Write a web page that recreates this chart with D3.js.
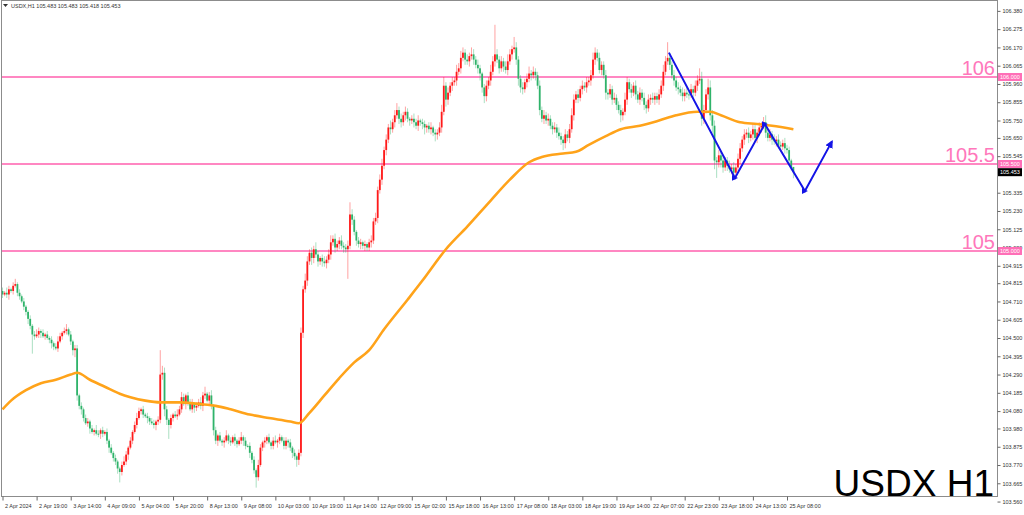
<!DOCTYPE html>
<html>
<head>
<meta charset="utf-8">
<script src="https://cdn.jsdelivr.net/npm/d3@7"></script>
<style>
  html, body { margin: 0; padding: 0; background: #fff; }
  svg { display: block; }
</style>
</head>
<body>
<div id="vis"></div>
<script>
// Hourly closes (2 Apr 2024 00:00 -> 25 Apr 11:00)
const FIRST_OPEN = 104.77;
const CLOSES = [
  104.75,104.76,104.75,104.78,104.77,104.80,104.81,104.76,104.74,104.71,104.68,104.65,104.61,104.57,104.52,104.51,104.52,104.54,104.53,104.51,
  104.52,104.50,104.49,104.47,104.45,104.44,104.48,104.51,104.53,104.54,104.55,104.52,104.48,104.43,104.44,104.17,104.11,104.09,104.04,104.01,
  104.02,103.98,103.96,103.97,103.95,103.95,103.97,103.95,103.96,103.91,103.87,103.84,103.81,103.79,103.75,103.73,103.77,103.79,103.83,103.87,
  103.91,103.96,104.00,104.04,104.08,104.09,104.06,104.05,104.04,104.02,104.01,104.00,104.02,104.03,104.29,104.30,104.09,104.03,104.00,104.04,
  104.06,104.05,104.06,104.09,104.16,104.12,104.17,104.13,104.09,104.12,104.10,104.11,104.13,104.11,104.17,104.18,104.14,104.17,104.11,103.97,
  103.91,103.94,103.91,103.90,103.91,103.94,103.91,103.90,103.93,103.91,103.89,103.91,103.93,103.91,103.88,103.88,103.84,103.80,103.74,103.70,
  103.77,103.87,103.90,103.91,103.93,103.90,103.88,103.91,103.90,103.91,103.93,103.91,103.88,103.91,103.90,103.87,103.84,103.82,103.80,103.84,
  104.53,104.78,104.83,104.94,104.99,104.96,105.01,104.98,104.94,104.96,104.94,104.93,104.95,104.98,105.05,105.07,105.02,105.04,105.06,105.03,
  105.02,105.01,105.03,105.21,105.18,105.11,105.06,105.04,105.05,105.03,105.04,105.02,105.05,105.06,105.17,105.19,105.35,105.41,105.49,105.58,
  105.64,105.71,105.70,105.74,105.78,105.81,105.76,105.74,105.78,105.80,105.76,105.75,105.76,105.74,105.72,105.75,105.74,105.73,105.71,105.72,
  105.70,105.71,105.68,105.67,105.68,105.71,105.80,105.95,105.87,105.91,105.95,105.97,105.98,106.03,106.05,106.11,106.14,106.10,106.09,106.12,
  106.13,106.10,106.07,106.05,106.02,105.94,105.89,105.95,105.98,106.03,106.09,106.13,106.10,106.05,106.09,106.06,106.04,106.09,106.13,106.16,
  106.17,106.10,105.99,105.94,105.93,105.97,105.99,106.02,106.01,106.03,106.01,105.95,105.81,105.76,105.78,105.75,105.76,105.72,105.70,105.71,
  105.68,105.66,105.64,105.62,105.67,105.65,105.70,105.78,105.87,105.90,105.88,105.93,105.95,105.94,105.97,105.98,106.01,106.10,106.14,106.11,
  106.04,106.07,106.01,105.91,105.90,105.93,105.87,105.88,105.84,105.81,105.78,105.80,105.87,105.97,105.93,105.91,105.95,105.90,105.87,105.91,
  105.88,105.84,105.82,105.87,105.88,105.87,105.89,105.87,105.90,105.95,106.03,106.09,106.11,106.07,106.01,105.98,105.94,105.93,105.91,105.89,
  105.91,105.90,105.90,105.93,105.91,105.95,105.98,105.99,105.76,105.81,105.90,105.94,105.78,105.72,105.52,105.51,105.55,105.52,105.48,105.52,
  105.49,105.47,105.48,105.45,105.48,105.53,105.59,105.64,105.67,105.68,105.65,105.67,105.70,105.65,105.68,105.71,105.72,105.74,105.68,105.65,
  105.67,105.64,105.63,105.64,105.61,105.60,105.62,105.59,105.58,105.52,105.483,105.453
];
// Upper / lower shadow lengths, in hundredths
const WICK_HI = [
  2,1,3,2,1,2,3,1,2,1,2,1,1,2,1,2,3,2,1,2, 1,2,1,2,1,2,3,2,1,2,3,1,2,1,2,2,1,2,1,2,
  2,1,2,1,3,2,1,2,1,2,1,2,1,2,1,1,2,3,2,1, 2,1,2,3,2,1,2,1,2,1,2,2,1,2,14,4,3,2,1,2,
  1,2,3,2,3,2,1,2,2,3,1,2,2,3,2,4,1,2,3,1, 2,1,2,1,2,3,1,2,1,2,1,2,3,1,2,1,2,1,2,1,
  3,2,1,2,1,2,1,2,3,1,2,1,2,2,1,2,1,2,1,2, 3,2,4,3,2,3,2,4,2,1,2,3,2,3,4,2,3,2,2,3,
  2,2,3,7,3,2,1,2,2,1,2,1,2,3,2,3,2,3,4,2, 3,2,4,2,3,4,2,3,2,3,2,1,2,3,2,3,1,2,2,1,
  2,3,1,2,2,3,4,5,2,3,2,3,2,4,3,4,3,2,3,2, 4,3,2,3,2,1,2,3,2,4,3,17,3,2,3,2,3,4,3,2,
  6,3,2,2,3,2,3,4,2,3,2,2,3,2,3,2,3,2,2,3, 2,3,2,2,3,2,3,4,3,2,3,2,3,2,3,2,3,4,3,2,
  3,2,2,3,2,3,2,3,2,2,3,2,4,3,2,3,2,3,2,3, 2,3,2,3,2,3,2,2,3,3,4,3,9,3,2,3,2,3,2,3,
  2,3,2,3,2,3,3,6,4,3,3,5,4,3,3,2,3,2,3,2, 2,3,2,3,2,3,3,2,3,2,3,2,3,3,2,3,2,3,4,2,
  3,2,3,2,3,2,2,3,2,2,1,0
];
const WICK_LO = [
  2,1,2,3,1,2,1,2,2,1,2,2,3,2,11,2,1,2,3,1, 2,1,2,3,2,1,2,1,2,1,2,1,2,3,4,3,2,3,2,1,
  2,3,1,2,1,2,3,2,1,2,3,1,2,2,3,6,2,1,2,3, 1,2,1,2,1,2,2,1,3,2,1,2,3,2,2,3,4,3,8,2,
  2,1,2,1,2,1,3,2,1,2,3,2,1,2,3,2,1,3,2,3, 2,3,1,2,3,1,2,2,1,3,2,1,2,3,2,1,3,2,2,6,
  2,1,2,3,2,1,2,2,1,3,2,1,2,2,3,2,3,2,4,3, 2,3,2,3,2,4,3,2,3,2,3,2,3,2,3,2,3,2,3,2,
  3,2,17,2,3,2,3,2,3,2,3,2,2,3,2,2,3,2,3,2, 3,2,3,2,3,2,3,3,2,3,2,3,2,3,2,3,2,3,4,3,
  2,3,2,4,3,2,3,2,4,3,2,3,2,3,2,3,2,3,2,3, 2,3,2,3,4,3,4,3,2,3,2,3,2,3,2,3,2,3,2,3,
  2,3,4,3,3,2,3,2,3,2,3,2,3,2,3,2,3,2,3,2, 3,2,3,4,3,2,3,2,3,2,3,2,3,2,3,2,3,2,3,2,
  2,3,2,4,3,2,3,2,3,2,4,3,2,3,2,3,2,3,2,3, 2,3,3,2,3,2,3,2,3,2,3,2,2,3,2,3,2,3,2,3,
  3,2,3,2,3,2,3,2,4,3,2,3,3,4,5,9,3,4,3,2, 3,2,3,2,3,2,3,2,3,2,3,2,3,2,3,2,3,2,3,2,
  2,3,2,3,2,3,2,3,2,3,2,3.5
];

// Time axis: one label every 16 bars
const TIME_LABELS = ["2 Apr 2024","2 Apr 19:00","3 Apr 14:00","4 Apr 09:00","5 Apr 04:00","5 Apr 20:00",
  "8 Apr 13:00","9 Apr 08:00","10 Apr 03:00","10 Apr 19:00","11 Apr 14:00","12 Apr 09:00","15 Apr 02:00",
  "15 Apr 18:00","16 Apr 13:00","17 Apr 08:00","18 Apr 03:00","18 Apr 19:00","19 Apr 14:00","22 Apr 07:00",
  "22 Apr 23:00","23 Apr 18:00","24 Apr 13:00","25 Apr 08:00"];
const TIME_STEP = 16;

// Price labels (105.440 sits under the current-price box and is not shown)
const PRICE_TICKS = [106.380,106.275,106.170,106.065,105.960,105.855,105.750,105.650,105.545,105.335,
  105.230,105.125,105.020,104.915,104.815,104.710,104.605,104.500,104.395,104.290,104.185,104.080,103.980,
  103.875,103.770,103.665,103.560];

// Horizontal levels
const LEVELS = [106, 105.5, 105];
const LEVEL_TEXT = ["106", "105.5", "105"];

// Moving average (read at bar index)
const MA_IDX = [0,4,11,18,25,32,35,41,48,55,60,67,74,83,93,100,107,116,125,135,139,144,151,158,165,172,179,
  190,197,208,218,229,238,247,253,263,269,275,283,290,299,308,316,326,332,337,346,354,361,371];
const MA_VAL = [104.09,104.14,104.20,104.24,104.26,104.29,104.30,104.26,104.22,104.18,104.16,104.14,104.13,104.13,
  104.12,104.11,104.09,104.06,104.04,104.02,104.01,104.07,104.17,104.27,104.36,104.43,104.55,104.72,104.83,
  105.01,105.14,105.29,105.41,105.51,105.54,105.56,105.57,105.61,105.66,105.70,105.72,105.75,105.78,105.80,
  105.80,105.78,105.74,105.73,105.72,105.70];

// Blue zigzag projection
const ZIG_IDX = [312.6, 343.6, 357.6, 376.4, 389.1];
const ZIG_VAL = [106.14, 105.42, 105.73, 105.345, 105.63];

const LAST = {o: 105.483, h: 105.483, l: 105.418, c: 105.453};

const FRAME_WIDTH = 1024;
const FRAME_HEIGHT = 515;
const PLOT_RIGHT = 997.5;
const PLOT_BOTTOM = 496.5;
const FONT = "'Liberation Sans', Arial, sans-serif";
const UP = "#ff1a1a";
const DOWN = "#2fb36a";
const PINK = "#ff5fae";

const FRAME = d3.select("#vis")
    .append("svg")
      .attr("width", FRAME_WIDTH)
      .attr("height", FRAME_HEIGHT);

const X_SCALE = d3.scaleLinear().domain([0, 368]).range([2.5, 787]);
const Y_SCALE = d3.scaleLinear().domain([105, 106]).range([251, 77]);

FRAME.append("clipPath").attr("id", "plot")
  .append("rect").attr("x", 1.5).attr("y", 0.5).attr("width", PLOT_RIGHT - 1.5).attr("height", PLOT_BOTTOM - 0.5);

const plot = FRAME.append("g").attr("clip-path", "url(#plot)");

// Level lines
plot.selectAll(".level").data(LEVELS).enter().append("line")
  .attr("x1", 1.5).attr("x2", PLOT_RIGHT)
  .attr("y1", d => Y_SCALE(d)).attr("y2", d => Y_SCALE(d))
  .attr("stroke", PINK).attr("stroke-width", 1.5);

// Candles
const candles = CLOSES.map((c, i) => {
  const o = i === 0 ? FIRST_OPEN : CLOSES[i - 1];
  return {i: i, o: o, c: c,
    h: Math.max(o, c) + WICK_HI[i] / 100,
    l: Math.min(o, c) - WICK_LO[i] / 100};
});
const col = d => d.c > d.o ? UP : DOWN;

plot.append("g").selectAll("line").data(candles).enter().append("line")
  .attr("x1", d => X_SCALE(d.i)).attr("x2", d => X_SCALE(d.i))
  .attr("y1", d => Y_SCALE(d.h)).attr("y2", d => Y_SCALE(d.l))
  .attr("stroke", col).attr("stroke-width", 1).attr("opacity", 0.4);

plot.append("g").selectAll("rect").data(candles).enter().append("rect")
  .attr("x", d => X_SCALE(d.i) - 0.9)
  .attr("width", 1.8)
  .attr("y", d => Y_SCALE(Math.max(d.o, d.c)))
  .attr("height", d => Math.max(1, Y_SCALE(Math.min(d.o, d.c)) - Y_SCALE(Math.max(d.o, d.c))))
  .attr("fill", col);

// Moving average
const maLine = d3.line()
  .x((d, i) => X_SCALE(MA_IDX[i]))
  .y(d => Y_SCALE(d))
  .curve(d3.curveMonotoneX);
plot.append("path").attr("d", maLine(MA_VAL))
  .attr("fill", "none").attr("stroke", "#ffa31a").attr("stroke-width", 2.6);

// Zigzag with arrow
const defs = FRAME.append("defs");
defs.append("marker").attr("id", "arrow")
  .attr("viewBox", "0 0 10 10").attr("refX", 8).attr("refY", 5)
  .attr("markerWidth", 4).attr("markerHeight", 4).attr("orient", "auto")
  .append("path").attr("d", "M0,0 L10,5 L0,10 z").attr("fill", "#1414e6");
defs.append("marker").attr("id", "tip")
  .attr("viewBox", "0 0 10 10").attr("refX", 5).attr("refY", 5)
  .attr("markerWidth", 3).attr("markerHeight", 3).attr("orient", "auto")
  .append("path").attr("d", "M0,0 L10,5 L0,10 z").attr("fill", "#1414e6");

const zigLine = d3.line().x((d, i) => X_SCALE(ZIG_IDX[i])).y(d => Y_SCALE(d));
plot.append("path").attr("d", zigLine(ZIG_VAL))
  .attr("fill", "none").attr("stroke", "#1414e6").attr("stroke-width", 2)
  .attr("stroke-linejoin", "miter")
  .attr("marker-mid", "url(#tip)")
  .attr("marker-end", "url(#arrow)");

// Level labels
plot.selectAll(".lvtext").data(LEVELS).enter().append("text")
  .attr("x", 995).attr("y", d => Y_SCALE(d) - 2)
  .attr("text-anchor", "end")
  .attr("font-family", FONT)
  .attr("font-size", "20px")
  .attr("fill", "#ff77bb")
  .text((d, i) => LEVEL_TEXT[i]);

// Frame
FRAME.append("rect").attr("x", 1.5).attr("y", 0.5)
  .attr("width", PLOT_RIGHT - 1.5).attr("height", PLOT_BOTTOM - 0.5)
  .attr("fill", "none").attr("stroke", "#8c8c8c").attr("stroke-width", 1);

// Price axis
const yAxis = FRAME.append("g")
  .attr("transform", "translate(" + PLOT_RIGHT + ",0)")
  .call(d3.axisRight(Y_SCALE).tickValues(PRICE_TICKS).tickFormat(d3.format(".3f")).tickSize(3).tickPadding(2));
yAxis.select(".domain").remove();
yAxis.attr("font-family", FONT).attr("font-size", "5.5px");
yAxis.selectAll("text").attr("fill", "#333");
yAxis.selectAll("line").attr("stroke", "#666");

// Pink level boxes and current price box on the axis
const boxes = LEVELS.map(v => ({v: v, bg: "#ff6fb7"})).concat([{v: LAST.c, bg: "#000"}]);
const boxG = FRAME.append("g");
boxG.selectAll("rect").data(boxes).enter().append("rect")
  .attr("x", PLOT_RIGHT + 0.5).attr("y", d => Y_SCALE(d.v) - 4)
  .attr("width", 24).attr("height", 8).attr("fill", d => d.bg);
boxG.selectAll("text").data(boxes).enter().append("text")
  .attr("x", PLOT_RIGHT + 2.5).attr("y", d => Y_SCALE(d.v) + 2)
  .attr("font-family", FONT).attr("font-size", "5.5px").attr("fill", "#fff")
  .text(d => d3.format(".3f")(d.v));

// Time axis
const xAxis = FRAME.append("g")
  .attr("transform", "translate(0," + PLOT_BOTTOM + ")")
  .call(d3.axisBottom(X_SCALE)
    .tickValues(TIME_LABELS.map((d, i) => i * TIME_STEP))
    .tickFormat((d, i) => TIME_LABELS[i])
    .tickSize(4).tickPadding(4));
xAxis.select(".domain").remove();
xAxis.attr("font-family", FONT).attr("font-size", "5.5px");
xAxis.selectAll("text").attr("text-anchor", "start").attr("x", 2).attr("fill", "#333");
xAxis.selectAll("line").attr("stroke", "#666");

// Header
FRAME.append("path").attr("d", "M3,4 L8,4 L5.5,7 z").attr("fill", "#333");
FRAME.append("text").attr("x", 11).attr("y", 8)
  .attr("font-family", FONT).attr("font-size", "5.5px").attr("fill", "#333")
  .text("USDX,H1  " + [LAST.o, LAST.h, LAST.l, LAST.c].map(d3.format(".3f")).join(" "));

// Big symbol label
FRAME.append("text").attr("x", 994).attr("y", 496)
  .attr("text-anchor", "end")
  .attr("font-family", FONT)
  .attr("font-size", "37px")
  .attr("fill", "#000")
  .text("USDX H1");
</script>
</body>
</html>
